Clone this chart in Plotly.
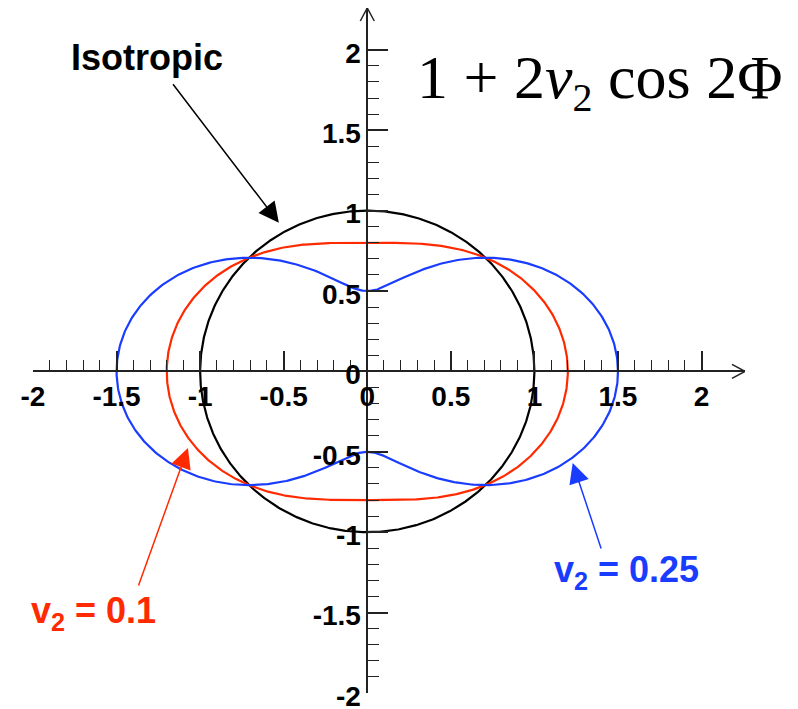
import numpy as np
import plotly.graph_objects as go

# Flow harmonic amplitudes drawn as polar curves r = 1 + 2 v2 cos(2 phi)
v2_values = [0.0, 0.1, 0.25]
curve_colors = ["#000000", "#ff2a00", "#1a3cff"]

# Axis ticks
major_ticks = [-2, -1.5, -1, -0.5, 0, 0.5, 1, 1.5, 2]
major_labels = ["-2", "-1.5", "-1", "-0.5", "0", "0.5", "1", "1.5", "2"]
minor_ticks = [round(-2 + 0.1 * i, 1) for i in range(41)]
minor_ticks = [t for t in minor_ticks if round(t * 2) != t * 2]

axis_max = 2.26
axis_min = -2.0

phi = np.linspace(0, 2 * np.pi, 721)

fig = go.Figure()
for v2, col in zip(v2_values, curve_colors):
    r = 1 + 2 * v2 * np.cos(2 * phi)
    fig.add_trace(go.Scatter(x=r * np.cos(phi), y=r * np.sin(phi), mode="lines",
                             line=dict(color=col, width=2.2), showlegend=False,
                             hoverinfo="skip"))

axis_pos = (0 - axis_min) / (axis_max - axis_min)
tick_font = dict(family="Liberation Sans, Arial, sans-serif", size=28,
                 color="black", weight="bold")
common = dict(range=[axis_min, axis_max], tickmode="array", tickvals=major_ticks,
              ticktext=major_labels, ticks="inside", ticklen=20, tickwidth=1.5,
              tickcolor="#222", showline=True, linecolor="#222", linewidth=1.5,
              showgrid=False, zeroline=False, tickfont=tick_font,
              anchor="free", position=axis_pos, ticklabeloverflow="allow",
              automargin=False,
              minor=dict(tickmode="array", tickvals=minor_ticks, ticks="inside",
                         ticklen=11, tickwidth=1.2, tickcolor="#222",
                         showgrid=False))

fig.update_layout(
    width=798, height=709,
    margin=dict(l=33, r=53, t=8, b=16, pad=0, autoexpand=False),
    paper_bgcolor="white", plot_bgcolor="white",
    xaxis=dict(**common),
    yaxis=dict(**common, ticklabelshift=3),
)

# Open arrow heads at the positive ends of both axes
head = [(-13, 7), (0, 0), (-13, -7)]
for (dx0, dy0), (dx1, dy1) in zip(head[:-1], head[1:]):
    fig.add_shape(type="line", xref="x", yref="y", xsizemode="pixel", ysizemode="pixel",
                  xanchor=axis_max, yanchor=0, x0=dx0, y0=dy0, x1=dx1, y1=dy1,
                  line=dict(color="#222", width=1.5))
    fig.add_shape(type="line", xref="x", yref="y", xsizemode="pixel", ysizemode="pixel",
                  xanchor=0, yanchor=axis_max, x0=dy0, y0=dx0, x1=dy1, y1=dx1,
                  line=dict(color="#222", width=1.5))

label_font = "Liberation Sans, Arial, sans-serif"

# Formula
fig.add_annotation(x=1.39, y=1.80, xref="x", yref="y", showarrow=False,
                   text="1 + 2<i>v</i><sub><span style='font-size:40px'>2</span></sub> cos 2Φ",
                   font=dict(family="Liberation Serif, Times New Roman, serif",
                             size=62, color="black"))

# Curve labels
labels = [
    ("Isotropic", -1.315, 1.95, "#000000"),
    ("v<sub>2</sub> = 0.1", -1.64, -1.50, "#ff2a00"),
    ("v<sub>2</sub> = 0.25", 1.55, -1.25, "#1a3cff"),
]
for txt, lx, ly, col in labels:
    fig.add_annotation(x=lx, y=ly, xref="x", yref="y", showarrow=False, text=txt,
                       font=dict(family=label_font, size=36, color=col, weight="bold"))

# Pointer arrows (tail -> tip)
pointers = [
    (-1.169, 1.795, -0.529, 0.924, "#000000"),
    (-1.372, -1.341, -1.073, -0.476, "#ff2a00"),
    (1.402, -1.110, 1.229, -0.569, "#1a3cff"),
]
for tx, ty, hx, hy, col in pointers:
    fig.add_annotation(x=hx, y=hy, ax=tx, ay=ty, xref="x", yref="y",
                       axref="x", ayref="y", text="", showarrow=True,
                       arrowhead=2, arrowsize=2.7, arrowwidth=1.5, arrowcolor=col)

fig.write_html("out.html")
